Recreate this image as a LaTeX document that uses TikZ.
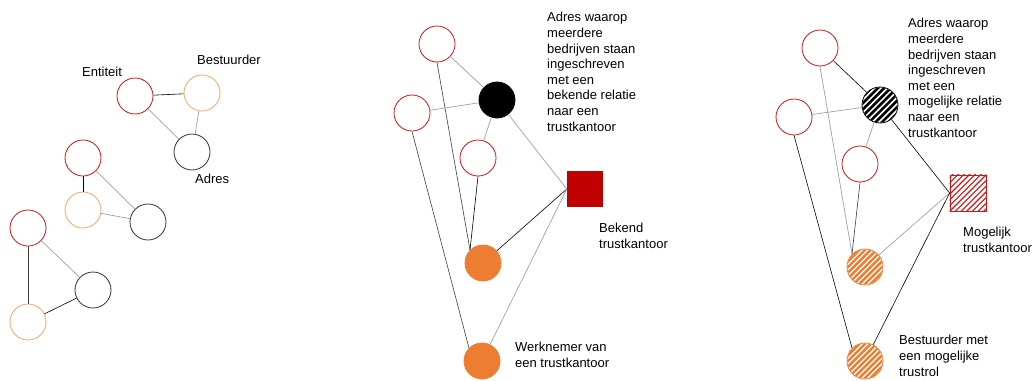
\documentclass[tikz,border=0pt]{standalone}
\usepackage{fontspec}
\setmainfont{Liberation Sans}
\definecolor{cred}{RGB}{210,20,20}
\definecolor{corl}{RGB}{244,165,105}
\definecolor{corf}{RGB}{237,125,49}
\definecolor{sqred}{RGB}{192,0,0}
\definecolor{egray}{RGB}{160,160,160}
\definecolor{edark}{RGB}{60,60,60}
\begin{document}
\begin{tikzpicture}[x=1pt,y=-1pt,
  base/.style={circle,line width=0.8pt,minimum size=36pt,inner sep=0pt},
  ent/.style={base,draw=cred,fill=white},
  best/.style={base,draw=corl,fill=white},
  adr/.style={base,draw=black!80,fill=white},
  blackfill/.style={base,draw=black,fill=black},
  orfill/.style={base,draw=corf,fill=corf},
  blackhatch/.style={base,draw=black},
  orhatch/.style={base,draw=corf},
  sqfill/.style={rectangle,minimum size=36pt,inner sep=0pt,fill=sqred},
  sqhatch/.style={rectangle,minimum size=36pt,inner sep=0pt,draw=cred,line width=0.8pt},
  lbl/.style={anchor=base west,inner sep=0pt,align=left,font=\fontsize{13}{15.6}\selectfont},
  eg/.style={draw=egray,line width=0.7pt},
  ek/.style={draw=black,line width=0.6pt},
  ed/.style={draw=edark,line width=0.6pt}]
\useasboundingbox (0,0) rectangle (1032,380);
% left panel
\node[ent]  (e1) at (135,96) {};
\node[best] (b1) at (202,93) {};
\node[adr]  (a1) at (192,152) {};
\node[ent]  (e2) at (83,158) {};
\node[best] (b2) at (83,210) {};
\node[adr]  (a2) at (148,222) {};
\node[ent]  (e3) at (28,228) {};
\node[best] (b3) at (28,322) {};
\node[adr]  (a3) at (93,290) {};
\draw[ek] (e1) -- (b1);
\draw[eg] (e1) -- (a1);
\draw[eg] (b1) -- (a1);
\draw[ek] (e2) -- (b2);
\draw[eg] (e2) -- (a2);
\draw[eg] (b2) -- (a2);
\draw[ed] (e3) -- (b3);
\draw[eg] (e3) -- (a3);
\draw[ek] (b3) -- (a3);
\node[lbl] (le) at (82,76) {Entiteit};
\node[lbl] (lb) at (197,64) {Bestuurder};
\node[lbl] (la) at (195,183) {Adres};
% middle panel
\node[ent] (tr) at (437,44) {};
\node[ent] (lr) at (412,113) {};
\node[blackfill] (bk) at (497,100) {};
\node[ent] (mr) at (478,158) {};
\node[sqfill] (sq) at (585,189) {};
\node[orfill] (o1) at (483,263) {};
\node[orfill] (o2) at (482,361) {};
\draw[eg] (tr) -- (bk);
\draw[ed] (tr.south) -- (o1.north west);
\draw[eg] (lr) -- (bk);
\draw[ed] (lr.south) -- (o2.north west);
\draw[eg] (bk) -- (mr);
\draw[eg] (bk) -- (sq.west);
\draw[ek] (mr.south) -- (o1.north west);
\draw[ek] (o1) -- (sq.west);
\draw[eg] (o2) -- (sq.west);
\node[lbl] (tm) at (547,131) {Adres waarop\\meerdere\\bedrijven staan\\ingeschreven\\met een\\bekende relatie\\naar een\\trustkantoor};
\node[lbl] (tb) at (599,248) {Bekend\\trustkantoor};
\node[lbl] (tw) at (515,367) {Werknemer van\\een trustkantoor};
% right panel
\node[ent] (tr2) at (820,48) {};
\node[ent] (lr2) at (794,117) {};
\node[blackhatch] (bk2) at (880,105) {};
\node[ent] (mr2) at (860,164) {};
\node[sqhatch] (sq2) at (968,193) {};
\node[orhatch] (o12) at (865,267) {};
\node[orhatch] (o22) at (865,361) {};
% hatching ("/" direction)
\begin{scope}
  \clip (bk2.center) circle (17.6);
  \foreach \t in {-44.5,-38.14,...,45} \draw[black,line width=2.6pt,shift={(bk2.center)}] (\t-20,20) -- (\t+20,-20);
\end{scope}
\begin{scope}
  \clip (o12.center) circle (17.6);
  \foreach \t in {-45.3,-39.64,...,46} \draw[corf,line width=2.4pt,shift={(o12.center)}] (\t-20,20) -- (\t+20,-20);
\end{scope}
\begin{scope}
  \clip (o22.center) circle (17.6);
  \foreach \t in {-45.3,-39.64,...,46} \draw[corf,line width=2.4pt,shift={(o22.center)}] (\t-20,20) -- (\t+20,-20);
\end{scope}
\begin{scope}
  \clip (sq2.south west) rectangle (sq2.north east);
  \foreach \t in {-45.3,-39.64,...,46} \draw[cred,line width=1.1pt,shift={(sq2.center)}] (\t-20,20) -- (\t+20,-20);
\end{scope}
\draw[ek] (tr2) -- (bk2);
\draw[eg] (tr2.south) -- (o12.north west);
\draw[eg] (lr2) -- (bk2);
\draw[ek] (lr2.south) -- (o22.north west);
\draw[eg] (bk2) -- (mr2);
\draw[ek] (bk2) -- (sq2.west);
\draw[ed] (mr2.south) -- (o12.north west);
\draw[eg] (o12) -- (sq2.west);
\draw[ek] (o22) -- (sq2.west);
\node[lbl] (tr3) at (908,137) {Adres waarop\\meerdere\\bedrijven staan\\ingeschreven\\met een\\mogelijke relatie\\naar een\\trustkantoor};
\node[lbl] (tmo) at (963,252) {Mogelijk\\trustkantoor};
\node[lbl] (tbm) at (899,376) {Bestuurder met\\een mogelijke\\trustrol};
\end{tikzpicture}
\end{document}
